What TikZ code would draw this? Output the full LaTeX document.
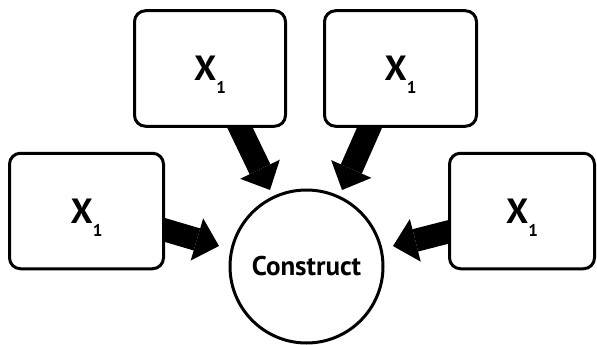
\documentclass[tikz,border=0pt]{standalone}
\usepackage{fontspec}
\setmainfont{PT Sans}
\usetikzlibrary{arrows.meta,calc,backgrounds}
\newcommand{\xone}{{\fontsize{35}{35}\selectfont\bfseries X}\smash{\raisebox{-13pt}{\fontsize{17}{17}\selectfont\bfseries 1}}}
\begin{document}
\begin{tikzpicture}[x=1pt,y=-1pt,
  box/.style={draw, line width=3pt, rounded corners=11pt, fill=white, minimum height=115.5pt, inner sep=0pt},
  construct/.style={circle, draw, line width=3pt, fill=white, minimum size=153pt, inner sep=0pt, font=\fontsize{27}{27}\selectfont\bfseries},
  bigarrow/.style={line width=23pt, -{Triangle[width=44pt,length=23pt,line width=0pt]}, shorten <=-8pt}
]
\useasboundingbox (0,0) rectangle (597,345);
\node[box, minimum width=154pt] (l) at (86.5,211) {\xone};
\node[box, minimum width=151pt] (tl) at (210,68.5) {\xone};
\node[box, minimum width=152pt] (tr) at (400.5,68.5) {\xone};
\node[box, minimum width=145pt] (r) at (522,211) {\xone};
\node[construct] (c) at (306.5,266.5) {Construct};
\coordinate (tipL) at ($(c.center)+(166.8:89.9pt)$);
\coordinate (tipR) at ($(c.center)+(13.3:88.9pt)$);
\coordinate (tipTL) at ($(c.center)+(115.5:84.8pt)$);
\coordinate (tipTR) at ($(c.center)+(65.1:84.3pt)$);
\begin{scope}[on background layer]
\draw[bigarrow] ([yshift=-19pt]l.east) -- (tipL);
\draw[bigarrow] ([yshift=-21pt]r.west) -- (tipR);
\draw[bigarrow] ([xshift=30pt]tl.south) -- (tipTL);
\draw[bigarrow] ([xshift=-31pt]tr.south) -- (tipTR);
\end{scope}
\end{tikzpicture}
\end{document}
